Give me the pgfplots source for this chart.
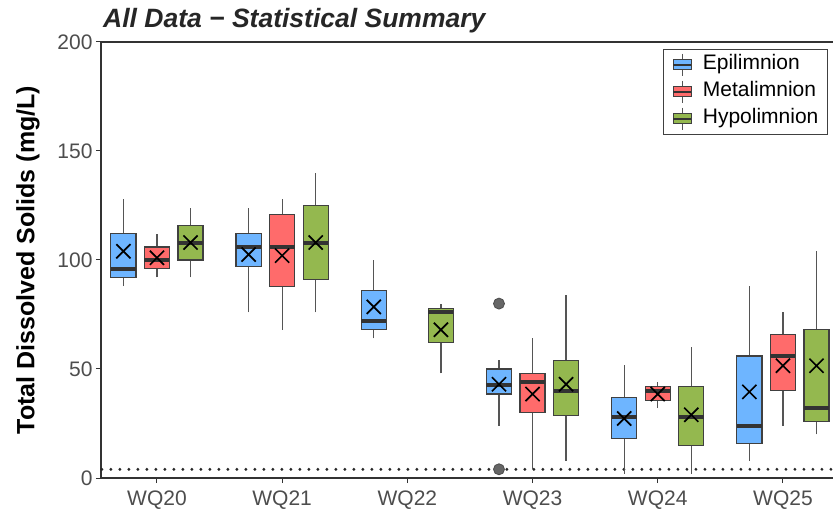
\documentclass[border=0pt]{standalone}
\usepackage{pgfplots}
\pgfplotsset{compat=1.18}
\usepackage{fontspec}
\setmainfont{Liberation Sans}

\definecolor{cblue}{HTML}{6EB5FF}
\definecolor{cred}{HTML}{FF6B6B}
\definecolor{cgreen}{HTML}{94B84F}
\definecolor{edgec}{HTML}{404040}
\definecolor{whc}{HTML}{555555}
\definecolor{medc}{HTML}{333333}
\definecolor{axc}{HTML}{333333}
\definecolor{tickc}{HTML}{4D4D4D}

% position, lower whisker, lower quartile, median, upper quartile, upper whisker, fill
\newcommand{\bx}[7]{%
  \pgfmathsetmacro\xl{#1-0.1}\pgfmathsetmacro\xr{#1+0.1}%
  \addplot[forget plot, draw=whc, line width=1.2bp] coordinates {(#1,#2) (#1,#3)};
  \addplot[forget plot, draw=whc, line width=1.2bp] coordinates {(#1,#5) (#1,#6)};
  \addplot[forget plot, fill=#7, draw=edgec, line width=1.2bp]
    coordinates {(\xl,#3) (\xr,#3) (\xr,#5) (\xl,#5)} -- cycle;
  \addplot[forget plot, draw=medc, line width=4bp] coordinates {(\xl,#4) (\xr,#4)};
}

\pgfplotsset{boxleg/.style={legend image code/.code={
  \path (-3bp,0bp) (27bp,0bp);
  \draw[draw=whc, line width=0.9bp] (9bp,-11bp) -- (9bp,11bp);
  \filldraw[line width=1bp] (0bp,-5bp) rectangle (18bp,5bp);
  \draw[draw=medc, line width=2bp] (0bp,0bp) -- (18bp,0bp);}}}

\begin{document}
\begin{tikzpicture}
\begin{axis}[
  scale only axis, width=732bp, height=436bp,
  xmin=0.553, xmax=6.4, ymin=0, ymax=200,
  axis x line*=bottom, axis y line*=left,
  axis line style={draw=axc, line width=1.2bp},
  xtick={1,2,3,4,5,6},
  xticklabels={WQ20,WQ21,WQ22,WQ23,WQ24,WQ25},
  ytick={0,50,100,150,200},
  tick align=outside, major tick length=5bp,
  tick style={draw=axc, line width=1bp},
  /pgf/number format/assume math mode=true,
  ticklabel style={font=\fontsize{21bp}{24bp}\selectfont, text=tickc},
  x tick label style={yshift=-4bp},
  ylabel={Total Dissolved Solids (mg/L)},
  every axis y label/.style={at={(rel axis cs:0,0.5)}, xshift=-73bp, rotate=90, anchor=center,
    font=\fontsize{25bp}{30bp}\selectfont\bfseries},
  title={All Data \textminus{} Statistical Summary},
  every axis title/.style={at={(rel axis cs:0,1)}, anchor=base west, xshift=2bp, yshift=14bp,
    inner sep=0pt, text=black!85, font=\fontsize{26.5bp}{30bp}\selectfont\bfseries\itshape},
  legend style={at={(rel axis cs:0.993,0.985)}, anchor=north east,
    draw=edgec, line width=0.9bp, fill=white,
    font=\fontsize{21bp}{24bp}\selectfont, row sep=3.5bp,
    inner xsep=7bp, inner ysep=4bp,
    nodes={text height=15bp, text depth=4.5bp, inner sep=2bp}},
  legend cell align=left,
  clip=false,
]
\addlegendimage{boxleg, fill=cblue, draw=edgec}
\addlegendentry{Epilimnion}
\addlegendimage{boxleg, fill=cred, draw=edgec}
\addlegendentry{Metalimnion}
\addlegendimage{boxleg, fill=cgreen, draw=edgec}
\addlegendentry{Hypolimnion}

% detection limit
\addplot[forget plot, black!85, line width=3.2bp, line cap=round, dash pattern=on 0bp off 9bp]
  coordinates {(0.56,4) (6.4,4)};

% WQ20
\bx{0.732}{88}{92}{96}{112}{128}{cblue}
\bx{1.000}{92}{96}{100}{106}{112}{cred}
\bx{1.268}{92}{100}{108}{116}{124}{cgreen}
% WQ21
\bx{1.732}{76}{97}{106}{112}{124}{cblue}
\bx{2.000}{68}{88}{106}{121}{128}{cred}
\bx{2.268}{76}{91}{108}{125}{140}{cgreen}
% WQ22
\bx{2.732}{64}{68}{72}{86}{100}{cblue}
\bx{3.268}{48}{62}{76}{77.8}{80}{cgreen}
% WQ23
\bx{3.732}{24}{38.5}{42.6}{50}{54}{cblue}
\bx{4.000}{4}{30}{44}{48}{64}{cred}
\bx{4.268}{8}{28.5}{40}{54}{84}{cgreen}
% WQ24
\bx{4.732}{2}{18}{28}{37}{52}{cblue}
\bx{5.000}{32}{35.5}{40}{42}{44}{cred}
\bx{5.268}{2}{15}{28}{42}{60}{cgreen}
% WQ25
\bx{5.732}{8}{16}{24}{56}{88}{cblue}
\bx{6.000}{24}{40}{56}{66}{76}{cred}
\bx{6.268}{20}{26}{32}{68}{104}{cgreen}

% outliers
\addplot[forget plot, only marks, mark=*, mark size=5.5bp,
  mark options={fill=black!60, draw=black!70, line width=0.8bp}]
  coordinates {(3.732,80) (3.732,4)};

% means
\addplot[forget plot, only marks, mark=x, mark size=10bp,
  mark options={black, line width=1.7bp}]
  coordinates {
    (0.732,104) (1.000,101) (1.268,108)
    (1.732,102.5) (2.000,102) (2.268,108)
    (2.732,78.5) (3.268,68)
    (3.732,43) (4.000,38.5) (4.268,43)
    (4.732,27.3) (5.000,38.5) (5.268,29)
    (5.732,39.5) (6.000,51.5) (6.268,51.5)
  };

\draw[axc, line width=1.2bp] (rel axis cs:0,1) -- (rel axis cs:1,1);
\coordinate (bl) at (rel axis cs:0,0);
\coordinate (tr) at (rel axis cs:1,1);
\end{axis}
\pgfresetboundingbox
\path[use as bounding box] ([shift={(-101bp,-40bp)}]bl) rectangle ([shift={(0bp,42bp)}]tr);
\end{tikzpicture}
\end{document}
